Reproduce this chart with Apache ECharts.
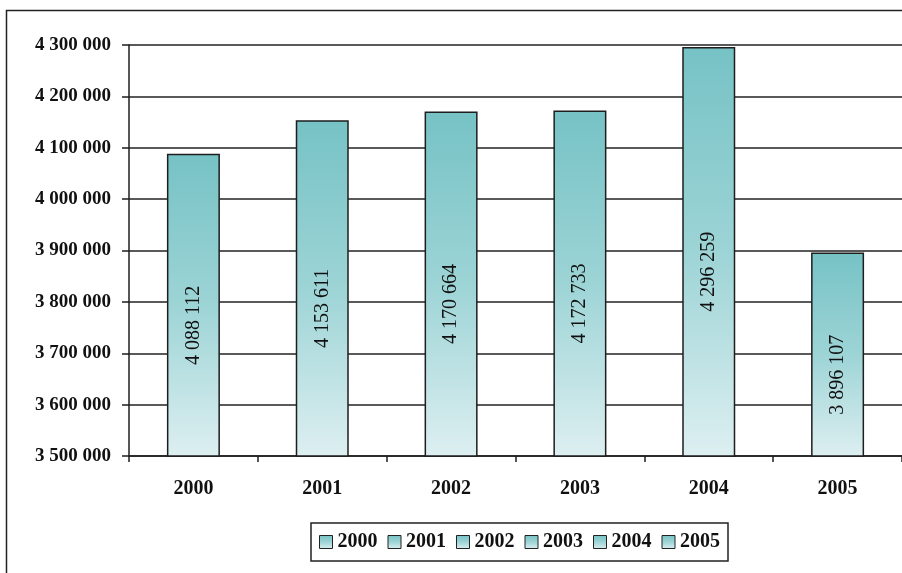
<!DOCTYPE html>
<html>
<head>
<meta charset="utf-8">
<script src="https://cdn.jsdelivr.net/npm/echarts@6/dist/echarts.min.js"></script>
<style>
  html, body { margin: 0; padding: 0; background: #fff; }
  #chart { width: 902px; height: 573px; }
</style>
</head>
<body>
<div id="chart"></div>
<script>
// Yearly totals
const years = ['2000', '2001', '2002', '2003', '2004', '2005'];
const totals = [4088112, 4153611, 4170664, 4172733, 4296259, 3896107];

// Value axis range
const axisMin = 3500000;
const axisMax = 4300000;
const axisStep = 100000;

const serif = 'Liberation Serif';

function spaced(n) {
  return String(Math.round(n)).replace(/\B(?=(\d{3})+(?!\d))/g, ' ');
}

const barFill = new echarts.graphic.LinearGradient(0, 0, 0, 1, [
  { offset: 0, color: '#76c2c5' },
  { offset: 0.5, color: '#9dd4d6' },
  { offset: 1, color: '#ddeff1' }
]);

// One stacked series per year so that each year gets its own legend entry
const series = years.map((y, i) => ({
  name: y,
  type: 'bar',
  stack: 'total',
  barWidth: 53,
  data: years.map((_, j) => (j === i ? totals[j] : '-')),
  itemStyle: { color: barFill, borderColor: '#1e1e1e', borderWidth: 1.5 },
  label: {
    show: true,
    position: 'inside',
    rotate: 90,
    // offset is in the rotated text frame: negative x moves the label down
    offset: [-20, 0],
    fontFamily: serif,
    fontSize: 20,
    color: '#111',
    formatter: p => spaced(p.value)
  },
  emphasis: { disabled: true }
}));

const chart = echarts.init(document.getElementById('chart'));
chart.setOption({
  animation: false,
  backgroundColor: '#fff',
  graphic: [{
    type: 'rect',
    shape: { x: 6.5, y: 10.5, width: 1000, height: 1000 },
    style: { fill: 'none', stroke: '#222', lineWidth: 1.5 },
    silent: true
  }],
  grid: { left: 129, right: -7, top: 45, bottom: 117, containLabel: false },
  xAxis: {
    type: 'category',
    data: years,
    axisLine: { lineStyle: { color: '#1e1e1e', width: 1.5 } },
    axisTick: { show: true, length: 6, lineStyle: { color: '#1e1e1e', width: 1.5 } },
    axisLabel: { fontFamily: serif, fontWeight: 'bold', fontSize: 20, color: '#111', margin: 23 },
    splitLine: { show: false }
  },
  yAxis: {
    type: 'value',
    min: axisMin,
    max: axisMax,
    interval: axisStep,
    axisLine: { show: true, lineStyle: { color: '#1e1e1e', width: 1.5 } },
    axisTick: { show: true, length: 7, lineStyle: { color: '#1e1e1e', width: 1.5 } },
    axisLabel: { fontFamily: serif, fontWeight: 'bold', fontSize: 19, color: '#111', margin: 18, formatter: v => spaced(v) },
    splitLine: { lineStyle: { color: '#222', width: 1.5 } }
  },
  legend: {
    left: 311,
    top: 523,
    itemWidth: 13,
    itemHeight: 13,
    itemGap: 10,
    icon: 'rect',
    padding: [8, 8, 8, 8],
    borderColor: '#222',
    borderWidth: 1.5,
    itemStyle: { borderColor: '#222', borderWidth: 1 },
    textStyle: { fontFamily: serif, fontWeight: 'bold', fontSize: 20, color: '#111', lineHeight: 22 },
    data: years
  },
  series: series
});
</script>
</body>
</html>
